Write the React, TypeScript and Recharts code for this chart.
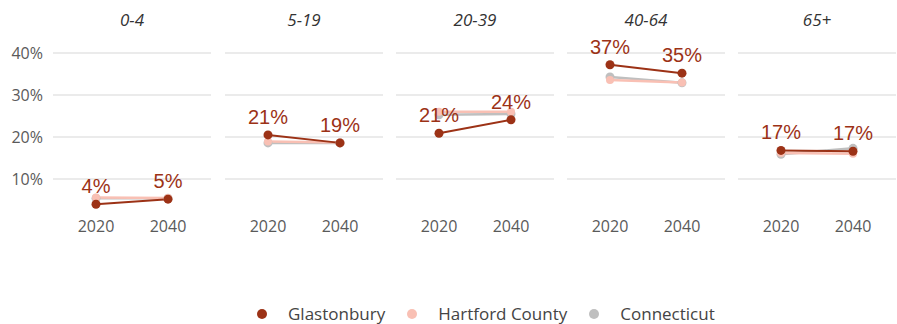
import React from 'react';
import { LineChart, Line, XAxis, YAxis, CartesianGrid, LabelList } from 'recharts';

const ageGroups = ['0-4', '5-19', '20-39', '40-64', '65+'];
const years = ['2020', '2040'];
// share of population, % — [2020, 2040] per age group
const glastonbury = [[4.0, 5.2], [20.5, 18.6], [20.9, 24.1], [37.2, 35.2], [16.8, 16.6]];
const hartfordCounty = [[5.6, 5.5], [18.9, 18.7], [26.0, 26.0], [33.6, 33.0], [16.2, 16.0]];
const connecticut = [[5.4, 5.4], [18.6, 18.6], [25.3, 25.5], [34.3, 32.9], [15.9, 17.3]];
const yTicks = [10, 20, 30, 40];
const Y_MAX = 45;

const RED = '#9c3216';
const PINK = '#f9c0b4';
const GREY = '#bfbfbf';

const panelLeft = [53, 225, 396, 567, 738];
const PANEL_W = 158;

const pct = (v: any) => `${Math.round(Number(v))}%`;

// grid only at the tick values (no lines at the plot edges)
const gridRows = ({ offset }: any) =>
  yTicks.map((t) => offset.top + offset.height * (1 - t / Y_MAX));

function Panel({ idx }: { idx: number }) {
  const data = years.map((y, i) => ({
    year: y,
    glastonbury: glastonbury[idx][i],
    hartford: hartfordCounty[idx][i],
    connecticut: connecticut[idx][i],
  }));
  const first = idx === 0;
  const left = first ? 0 : panelLeft[idx];
  const width = first ? panelLeft[0] + PANEL_W : PANEL_W;

  return (
    <div style={{ position: 'absolute', left, top: 0 }}>
      <LineChart width={width} height={250} data={data} margin={{ top: 32, right: 0, bottom: 0, left: 0 }}>
        <CartesianGrid vertical={false} stroke="#ebebeb" strokeWidth={2} horizontalCoordinatesGenerator={gridRows} />
        <XAxis
          dataKey="year"
          axisLine={false}
          tickLine={false}
          height={29}
          padding={{ left: 43, right: 43 }}
          tick={{ fill: '#5a5a5a', fontSize: 16, fontFamily: 'Open Sans' }}
          tickSize={0}
          tickMargin={0}
        />
        <YAxis
          hide={!first}
          width={53}
          domain={[0, Y_MAX]}
          ticks={yTicks}
          axisLine={false}
          tickLine={false}
          tickFormatter={pct}
          tick={{ fill: '#5a5a5a', fontSize: 16, fontFamily: 'Open Sans' }}
          tickMargin={4}
        />
        <Line dataKey="connecticut" stroke={GREY} strokeWidth={2.5} dot={{ r: 4.5, fill: GREY, stroke: 'none' }} activeDot={false} isAnimationActive={false} />
        <Line dataKey="hartford" stroke={PINK} strokeWidth={2.5} dot={{ r: 4, fill: PINK, stroke: 'none' }} activeDot={false} isAnimationActive={false} />
        <Line dataKey="glastonbury" stroke={RED} strokeWidth={2} dot={{ r: 4.5, fill: RED, stroke: 'none' }} activeDot={false} isAnimationActive={false}>
          <LabelList dataKey="glastonbury" position="top" offset={11} formatter={pct} fill={RED} fontSize={20} fontFamily="Liberation Sans" />
        </Line>
      </LineChart>
      <div
        style={{
          position: 'absolute',
          top: 8,
          left: first ? panelLeft[0] : 0,
          width: PANEL_W,
          textAlign: 'center',
          fontFamily: 'Open Sans',
          fontStyle: 'italic',
          fontSize: 17,
          lineHeight: '24px',
          color: '#333',
        }}
      >
        {ageGroups[idx]}
      </div>
    </div>
  );
}

const legendItems = [
  { name: 'Glastonbury', color: RED },
  { name: 'Hartford County', color: PINK },
  { name: 'Connecticut', color: GREY },
];

export default function App() {
  return (
    <div style={{ position: 'absolute', left: 0, top: 0, width: 897, height: 324, background: '#fff' }}>
      {ageGroups.map((_, i) => (
        <Panel key={i} idx={i} />
      ))}
      <div
        style={{
          position: 'absolute',
          top: 302,
          left: 257,
          display: 'flex',
          fontFamily: 'Open Sans',
          fontSize: 17,
          lineHeight: '24px',
          color: '#444',
        }}
      >
        {legendItems.map((it) => (
          <div key={it.name} style={{ display: 'flex', alignItems: 'center', marginRight: 22 }}>
            <span style={{ width: 10, height: 10, borderRadius: 5, background: it.color, marginRight: 21 }} />
            <span>{it.name}</span>
          </div>
        ))}
      </div>
    </div>
  );
}
